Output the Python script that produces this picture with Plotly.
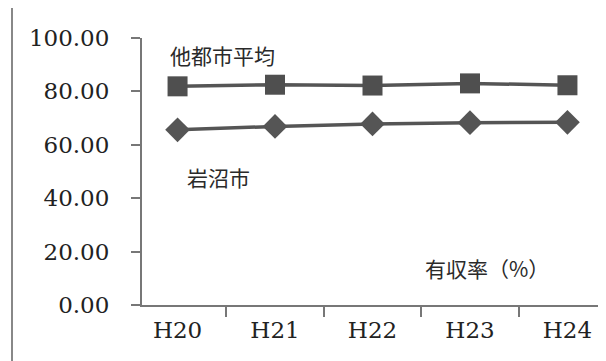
import plotly.graph_objects as go

categories = ["H20", "H21", "H22", "H23", "H24"]
others_avg = [81.9, 82.5, 82.2, 83.0, 82.3]
city = [65.6, 66.9, 67.8, 68.3, 68.4]
y_ticks = [0, 20, 40, 60, 80, 100]
y_ticktext = [f"{v:.2f}" for v in y_ticks]

label_others = "他都市平均"
label_city = "岩沼市"
label_metric = "有収率（%）"

fig = go.Figure()
fig.add_trace(go.Scatter(
    x=categories, y=others_avg, mode="lines+markers",
    line=dict(color="#555555", width=3.5),
    marker=dict(symbol="square", size=20, color="#4f4f4f"),
    showlegend=False,
))
fig.add_trace(go.Scatter(
    x=categories, y=city, mode="lines+markers",
    line=dict(color="#555555", width=3.5),
    marker=dict(symbol="diamond", size=19, color="#555555"),
    showlegend=False,
))

jp_font = dict(family="Noto Sans CJK JP", size=21, color="#2a2a2a")
fig.add_annotation(x=0.056, y=93.7, xref="paper", yref="y", text=label_others,
                   showarrow=False, xanchor="left", yanchor="middle", font=jp_font)
fig.add_annotation(x=0.093, y=48, xref="paper", yref="y", text=label_city,
                   showarrow=False, xanchor="left", yanchor="middle", font=jp_font)
fig.add_annotation(x=0.61, y=13.9, xref="paper", yref="y", text=label_metric,
                   showarrow=False, xanchor="left", yanchor="middle", font=jp_font)

# left frame line
fig.add_shape(type="line", xref="paper", yref="paper", x0=-0.282, x1=-0.282, y0=-0.3, y1=1.15,
              line=dict(color="#888888", width=2))

fig.update_layout(
    width=606, height=361,
    margin=dict(l=134, r=11, t=30, b=64),
    paper_bgcolor="white", plot_bgcolor="white",
    font=dict(family="DejaVu Serif", size=23, color="#222222"),
)
fig.update_xaxes(
    type="category", showline=True, linecolor="#777777", linewidth=2,
    ticks="outside", ticklen=10, tickcolor="#777777", tickwidth=2,
    tickson="boundaries", showgrid=False, zeroline=False, ticklabelstandoff=3,
    tickfont=dict(family="DejaVu Serif", size=23, color="#222222"),
)
fig.update_yaxes(
    range=[0, 100], tickvals=y_ticks, ticktext=y_ticktext,
    showline=True, linecolor="#777777", linewidth=2,
    ticks="outside", ticklen=9, tickcolor="#777777", tickwidth=2,
    showgrid=False, zeroline=False, ticklabelstandoff=17,
    tickfont=dict(family="DejaVu Serif", size=23, color="#222222"),
)

fig.write_html("out.html")
